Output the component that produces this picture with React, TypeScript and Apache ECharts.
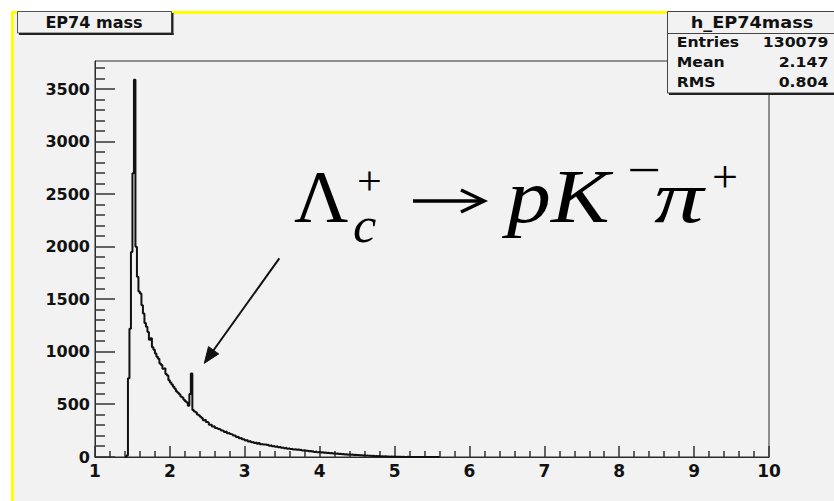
import React, { useEffect, useRef } from 'react';
import * as echarts from 'echarts';

// ---------------- data ----------------
const histTitle = 'EP74 mass';
const statsName = 'h_EP74mass';
const statsLabels = ['Entries', 'Mean', 'RMS'];
const statsValues = ['130079', '2.147', '0.804'];

const xMin = 1;
const xMax = 10;
const xMajorStep = 1;
const xMinorSplit = 5;
const yMin = 0;
const yMax = 3768;
const yMinorStep = 100;
const yMajorStep = 500;

// histogram: bins of width binWidth starting at binLow
const binLow = 1.4;
const binWidth = 0.02;
const counts = [
  0, 15, 750, 1220, 1950, 2700, 3590, 2000, 1715, 1575,
  1555, 1445, 1365, 1275, 1240, 1190, 1115, 1130, 1045, 1020,
  985, 955, 935, 890, 875, 840, 845, 790, 775, 730,
  710, 690, 668, 650, 625, 612, 598, 575, 566, 545,
  530, 518, 488, 600, 795, 448, 432, 425, 405, 398,
  384, 372, 350, 356, 333, 329, 308, 306, 290, 292,
  276, 274, 266, 262, 253, 250, 238, 242, 226, 228,
  218, 214, 204, 205, 190, 192, 178, 182, 168, 170,
  158, 162, 148, 152, 140, 144, 134, 138, 126, 133,
  122, 125, 118, 120, 114, 116, 108, 111, 103, 106,
  98, 103, 93, 97, 89, 91, 84, 88, 78, 84,
  75, 79, 72, 74, 68, 71, 66, 69, 62, 64,
  59, 60, 55, 58, 52, 55, 48, 53, 46, 48,
  43, 46, 40, 43, 38, 40, 35, 38, 33, 35,
  31, 33, 28, 31, 26, 29, 24, 27, 22, 25,
  21, 23, 19, 21, 18, 19, 16, 17, 14, 16,
  13, 15, 11, 13, 10, 12, 8, 10, 7, 9,
  6, 8, 5, 7, 4, 6, 3, 5, 3, 4,
  2, 3, 2, 3, 1, 2, 1, 1, 2, 1,
  1, 0, 1, 1, 0, 1, 0, 1, 0, 1,
  0, 1, 0, 0, 1, 0, 0, 1, 0, 0,
];

// ---------------- component ----------------
const LABEL_FONT = 'DejaVu Sans';
const SERIF = 'Liberation Serif';
const AXIS_COLOR = '#2a2a2a';
const TICK_COLOR = '#333333';

function buildPoints(): [number, number][] {
  const pts: [number, number][] = counts.map((c, i) => [
    Math.round((binLow + i * binWidth) * 1000) / 1000,
    c,
  ]);
  const end = Math.round((binLow + counts.length * binWidth) * 1000) / 1000;
  pts.push([end, 0]);
  return pts;
}

const isMultiple = (v: number, step: number) =>
  Math.abs(v / step - Math.round(v / step)) < 1e-6;

export default function App() {
  const ref = useRef<HTMLDivElement>(null);

  useEffect(() => {
    if (!ref.current) return;
    const chart = echarts.init(ref.current, undefined, { renderer: 'svg' });
    const Z = 100;

    const labelStyle = {
      fontFamily: LABEL_FONT, fontWeight: 'bold' as const, color: '#111',
    };

    chart.setOption({
      animation: false,
      grid: {
        left: 95, top: 61, width: 674, height: 396,
        show: true, borderColor: AXIS_COLOR, borderWidth: 1,
      },
      xAxis: {
        type: 'value', min: xMin, max: xMax, interval: xMajorStep, position: 'bottom',
        axisLine: { show: true, onZero: false, lineStyle: { color: AXIS_COLOR, width: 1 } },
        axisTick: { show: true, inside: true, length: 11, lineStyle: { color: TICK_COLOR, width: 1.5 } },
        minorTick: { show: true, splitNumber: xMinorSplit, length: 6, lineStyle: { color: TICK_COLOR, width: 1.5 } },
        splitLine: { show: false },
        axisLabel: {
          ...labelStyle, fontSize: 17, margin: 5,
          formatter: (v: number) => (isMultiple(v, xMajorStep) ? String(Math.round(v)) : ''),
        },
      },
      yAxis: {
        type: 'value', min: yMin, max: yMax, interval: yMajorStep, position: 'left',
        axisLine: { show: true, onZero: false, lineStyle: { color: AXIS_COLOR, width: 1 } },
        axisTick: { show: false },
        splitLine: { show: false },
        axisLabel: {
          ...labelStyle, fontSize: 16, margin: 5,
          formatter: (v: number) => (isMultiple(v, yMajorStep) ? String(Math.round(v)) : ''),
        },
      },
      series: [
        {
          type: 'line', name: statsName,
          data: buildPoints(), step: 'end', showSymbol: false, symbol: 'none',
          lineStyle: { color: '#111', width: 2 }, clip: true, z: 4,
        },
      ],
    });

    // ---- y tick marks, positioned through the chart's own scale ----
    const graphic: any[] = [];
    const toPx = (x: number, y: number) =>
      chart.convertToPixel({ xAxisIndex: 0, yAxisIndex: 0 }, [x, y]) as number[];

    for (let v = yMin; v <= yMax; v += yMinorStep) {
      const len = isMultiple(v, yMajorStep) ? 20 : 10;
      const p = toPx(xMin, v);
      graphic.push({
        type: 'rect', z: 60, silent: true,
        shape: { x: p[0], y: Math.round(p[1]) - 0.75, width: len, height: 1.5 },
        style: { fill: TICK_COLOR },
      });
    }

    const serifMid = (baseline: number, fs: number) => baseline - 0.3375 * fs;

    const formula = [
      { text: 'Λ', x: 294, base: 222, fs: 75, italic: false, sx: 1 },
      { text: '+', x: 357, base: 194, fs: 40, italic: false, sx: 1.1 },
      { text: 'c', x: 353, base: 242, fs: 50, italic: true, sx: 1.05 },
      { text: 'pK', x: 507, base: 222, fs: 77, italic: true, sx: 1.14 },
      { text: '−', x: 627, base: 186, fs: 48, italic: false, sx: 1.25 },
      { text: 'π', x: 654, base: 222, fs: 75, italic: true, sx: 1.32 },
      { text: '+', x: 712, base: 192, fs: 46, italic: false, sx: 1 },
    ];

    graphic.push(
      // title box
      {
        type: 'rect', z: Z,
        shape: { x: 17.5, y: 11.5, width: 154, height: 21.5 },
        style: { fill: '#f2f2f2', stroke: '#555', lineWidth: 1 },
      },
      { type: 'line', z: Z, shape: { x1: 172.5, y1: 13, x2: 172.5, y2: 35 }, style: { stroke: '#222', lineWidth: 2 } },
      { type: 'line', z: Z, shape: { x1: 19, y1: 34, x2: 173.5, y2: 34 }, style: { stroke: '#222', lineWidth: 2 } },
      {
        type: 'text', z: Z + 1, x: 94, y: 23.5, scaleX: 1.07,
        style: {
          text: histTitle, x: 0, y: 0, align: 'center', verticalAlign: 'middle',
          font: `bold 15px "${LABEL_FONT}"`, fill: '#111',
        },
      },
      // stats box
      {
        type: 'rect', z: Z,
        shape: { x: 667.5, y: 11.5, width: 172, height: 81.5 },
        style: { fill: '#f2f2f2', stroke: '#444', lineWidth: 1 },
      },
      { type: 'line', z: Z, shape: { x1: 667.5, y1: 33.5, x2: 840, y2: 33.5 }, style: { stroke: '#444', lineWidth: 1 } },
      { type: 'line', z: Z, shape: { x1: 669, y1: 94, x2: 840, y2: 94 }, style: { stroke: '#222', lineWidth: 2 } },
      {
        type: 'text', z: Z + 1, x: 752, y: 23, scaleX: 1.18,
        style: {
          text: statsName, x: 0, y: 0, align: 'center', verticalAlign: 'middle',
          font: `bold 15px "${LABEL_FONT}"`, fill: '#111',
        },
      },
      // annotation arrow
      { type: 'line', z: Z, shape: { x1: 279.3, y1: 258.3, x2: 213, y2: 351 }, style: { stroke: '#111', lineWidth: 2 } },
      {
        type: 'polygon', z: Z,
        shape: { points: [[204.3, 363.3], [218.7, 353.9], [208.5, 346.6]] },
        style: { fill: '#111', stroke: '#111', lineWidth: 1 },
      },
      // reaction arrow
      { type: 'line', z: Z, shape: { x1: 413, y1: 201, x2: 482, y2: 201 }, style: { stroke: '#000', lineWidth: 3.5 } },
      {
        type: 'polyline', z: Z,
        shape: { points: [[461, 190], [484, 201], [461, 212]] },
        style: { stroke: '#000', lineWidth: 3.5, fill: 'none' },
      },
    );

    statsLabels.forEach((lab, i) => {
      const y = 42.3 + i * 20;
      graphic.push({
        type: 'text', z: Z + 1, x: 676.7, y, scaleX: 1.12,
        style: {
          text: lab, x: 0, y: 0, align: 'left', verticalAlign: 'middle',
          font: `bold 14px "${LABEL_FONT}"`, fill: '#111',
        },
      });
      graphic.push({
        type: 'text', z: Z + 1, x: 828.3, y, scaleX: 1.12,
        style: {
          text: statsValues[i], x: 0, y: 0, align: 'right', verticalAlign: 'middle',
          font: `bold 14px "${LABEL_FONT}"`, fill: '#111',
        },
      });
    });

    formula.forEach((f) => {
      graphic.push({
        type: 'text', z: Z + 1, x: f.x, y: serifMid(f.base, f.fs), scaleX: f.sx,
        style: {
          text: f.text, x: 0, y: 0, align: 'left', verticalAlign: 'middle',
          font: `${f.italic ? 'italic ' : ''}${f.fs}px "${SERIF}"`, fill: '#000',
        },
      });
    });

    chart.setOption({ graphic });

    return () => chart.dispose();
  }, []);

  return (
    <div style={{ position: 'absolute', left: 0, top: 0, width: 834, height: 501, background: '#fff', overflow: 'hidden' }}>
      <div
        style={{
          position: 'absolute', left: 11, top: 11, width: 840, height: 510,
          borderLeft: '3px solid #ffff00', borderTop: '3px solid #ffff00', background: '#f2f2f2',
        }}
      />
      <div ref={ref} style={{ position: 'absolute', left: 0, top: 0, width: 834, height: 501 }} />
    </div>
  );
}
